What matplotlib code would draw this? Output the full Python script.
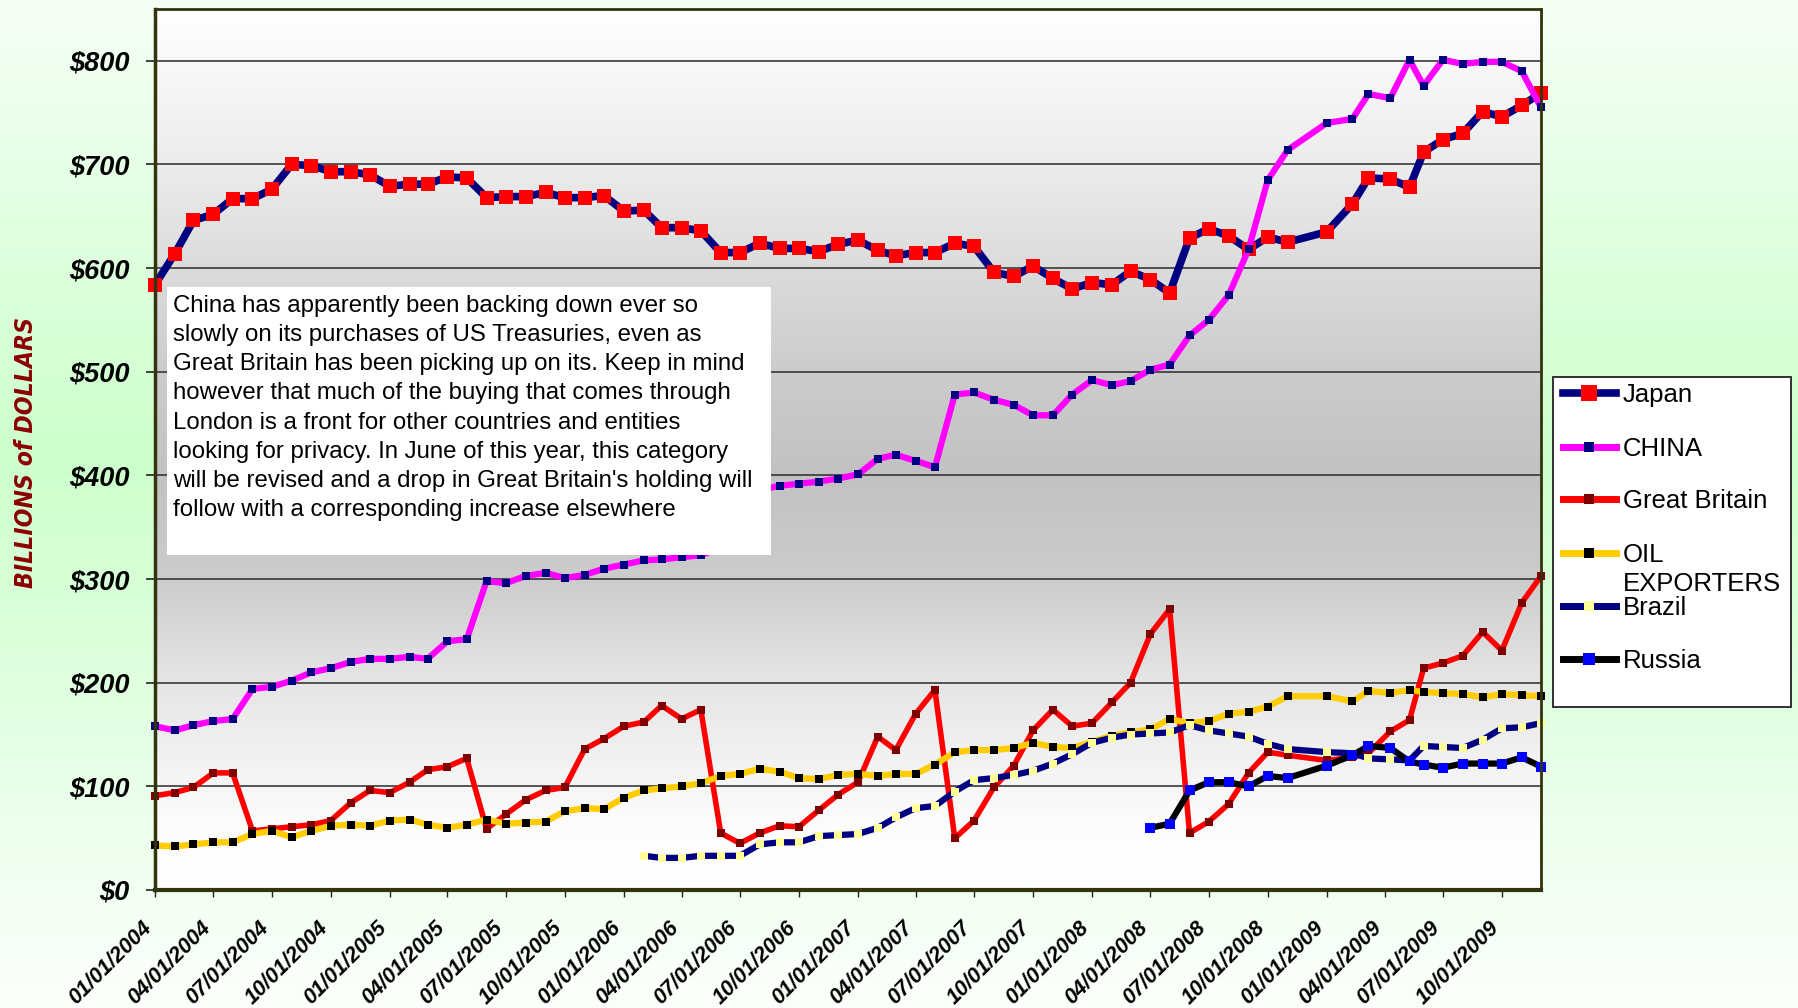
import numpy as np
import pandas as pd
import matplotlib
matplotlib.use("Agg")
import matplotlib.pyplot as plt
from matplotlib.lines import Line2D
from matplotlib.patches import Rectangle
from matplotlib import font_manager
from matplotlib.transforms import ScaledTranslation

# monthly dates, Dec 2008 is missing in the source table
dates = pd.date_range("2004-01-01", "2009-12-01", freq="MS")
dates = dates[dates != pd.Timestamp("2008-12-01")]
# a few early-2009 readings sit between month starts
shifted = {"2009-02-01": "2009-02-10", "2009-03-01": "2009-03-07",
           "2009-04-01": "2009-04-10", "2009-05-01": "2009-05-10"}
dates = pd.DatetimeIndex([pd.Timestamp(shifted.get(d.strftime("%Y-%m-%d"), d)) for d in dates])

quarters = pd.date_range("2004-01-01", "2009-10-01", freq="QS")

# billions of dollars
japan = [584, 614, 646, 652, 667, 667, 676, 700, 699, 693,
         693, 690, 679, 681, 681, 688, 687, 668, 669, 669,
         673, 668, 668, 670, 655, 656, 639, 639, 636, 615,
         615, 624, 619, 619, 616, 623, 627, 617, 612, 615,
         615, 624, 621, 596, 592, 602, 590, 580, 586, 584,
         597, 589, 576, 629, 638, 631, 618, 630, 625,
         635, 662, 687, 686, 678, 712, 724, 730, 751, 746, 757, 769]
china = [158, 154, 159, 163, 165, 194, 196, 202, 210, 214,
         220, 223, 223, 225, 223, 240, 242, 298, 296, 303,
         306, 301, 304, 310, 314, 318, 319, 321, 323, 330,
         340, 386, 390, 392, 394, 397, 401, 416, 420, 414,
         408, 478, 480, 473, 468, 458, 458, 478, 492, 487,
         491, 502, 507, 535, 550, 574, 618, 685, 714,
         740, 744, 768, 764, 801, 776, 801, 797, 799, 799, 790, 755]
great_britain = [91, 94, 99, 113, 113, 57, 59, 61, 63, 67,
                 84, 96, 94, 104, 116, 119, 127, 59, 73, 87,
                 96, 99, 136, 146, 158, 162, 178, 165, 174, 55,
                 45, 55, 62, 61, 77, 92, 104, 148, 135, 170,
                 193, 50, 67, 99, 120, 154, 174, 158, 161, 181,
                 200, 247, 271, 55, 66, 83, 113, 133, 130,
                 125, 128, 132, 153, 164, 214, 219, 226, 249, 231, 277, 303]
oil_exporters = [43, 42, 44, 46, 46, 54, 57, 51, 57, 62,
                 63, 62, 67, 68, 63, 60, 63, 68, 64, 65,
                 66, 76, 79, 78, 89, 96, 98, 100, 103, 110,
                 112, 117, 114, 108, 107, 111, 112, 110, 112, 112,
                 121, 133, 135, 135, 137, 142, 138, 137, 143, 149,
                 152, 155, 165, 161, 163, 170, 172, 177, 187,
                 187, 182, 192, 190, 193, 191, 190, 189, 186, 189, 188, 187]
brazil = [None] * 25 + [33, 31, 31, 33, 33, 33, 44, 46, 46, 52,
                        53, 54, 60, 70, 79, 81, 95, 106, 108, 111,
                        115, 122, 131, 142, 147, 150, 151, 152, 159, 154,
                        151, 148, 141, 136,
                        133, 132, 127, 126, 125, 139, 138, 137, 145, 156, 157, 161]
russia = [None] * 51 + [60, 64, 96, 104, 104, 100, 110, 108,
                        120, 130, 139, 137, 124, 121, 118, 122, 122, 122, 128, 119]

names = ["Japan", "CHINA", "Great Britain", "OIL\nEXPORTERS", "Brazil", "Russia"]
values = [japan, china, great_britain, oil_exporters, brazil, russia]

note = ("China has apparently been backing down ever so\n"
        "slowly on its purchases of US Treasuries, even as\n"
        "Great Britain has been picking up on its. Keep in mind\n"
        "however that much of the buying that comes through\n"
        "London is a front for other countries and entities\n"
        "looking for privacy. In June of this year, this category\n"
        "will be revised and a drop in Great Britain's holding will\n"
        "follow with a corresponding increase elsewhere")

# line colour, marker colour, line width, marker size
styles = [("#000080", "#FF0000", 5.5, 10),
          ("#FF00FF", "#000080", 4.5, 6),
          ("#FF0000", "#800000", 4.0, 6),
          ("#FFCC00", "#000000", 4.5, 6),
          ("#000080", "#FFFF99", 4.5, 6),
          ("#000000", "#0000FF", 4.5, 7.5)]

W, H = 1799, 1008
fig = plt.figure(figsize=(W / 100, H / 100), dpi=100)

# pale green page background
bg = fig.add_axes([0, 0, 1, 1], zorder=-5)
bg.axis("off")
t = np.linspace(0, 1, 256)[:, None]
g = np.interp(t, [0, 0.45, 1], [0.96, 0.80, 0.985])
bg.imshow(np.dstack([g, np.ones_like(g), g]), aspect="auto", extent=(0, 1, 0, 1))
bg.set_xlim(0, 1)
bg.set_ylim(0, 1)

ax = fig.add_axes([155 / W, 1 - 890 / H, (1541 - 155) / W, (890 - 9) / H])
ax.set_facecolor("none")
v = np.linspace(850, 0, 256)[:, None]
gray = np.interp(v, [0, 60, 100, 200, 300, 400, 500, 600, 700, 800, 850],
                 [1.0, 0.99, 0.965, 0.9, 0.8, 0.76, 0.8, 0.86, 0.925, 0.975, 1.0])
ax.imshow(np.dstack([gray, gray, gray]), extent=(0, 1, 0, 1), transform=ax.transAxes,
          aspect="auto", zorder=0, interpolation="bilinear")

for vals, (lc, mc, lw, ms) in zip(values, styles):
    y = np.array(vals, dtype=float)
    ok = ~np.isnan(y)
    ax.plot(dates[ok], y[ok], color=lc, lw=lw, marker="s", ms=ms,
            mfc=mc, mec=mc, mew=0, zorder=3, clip_on=False)

tick_font = dict(family="Liberation Sans", fontweight="bold", fontstyle="italic")
ax.set_xlim(pd.Timestamp("2004-01-01"), pd.Timestamp("2009-12-01"))
ax.set_ylim(0, 850)
ax.set_yticks(range(0, 801, 100))
ax.set_yticklabels([f"${k}" for k in range(0, 801, 100)], fontsize=19.5, **tick_font)
ax.set_xticks(quarters)
ax.set_xticklabels([d.strftime("%m/%d/%Y") for d in quarters], rotation=45,
                   ha="right", va="center", rotation_mode="anchor",
                   fontsize=15.5, **tick_font)
ax.tick_params(axis="y", direction="out", length=6.5, width=1.2, pad=12, colors="#222222")
ax.tick_params(axis="x", direction="out", length=5, width=1.0, pad=20, colors="#222222")
for lab in ax.get_yticklabels() + ax.get_xticklabels():
    lab.set_color("black")
shift = ScaledTranslation(-6 / 100, 0, fig.dpi_scale_trans)
for lab in ax.get_xticklabels():
    lab.set_transform(lab.get_transform() + shift)

ax.yaxis.grid(True, color="#2a2a2a", lw=1.1, zorder=1)
ax.set_axisbelow(True)
for side, w in [("left", 2.5), ("bottom", 3.0), ("top", 2.0), ("right", 2.0)]:
    ax.spines[side].set_color("#33330d")
    ax.spines[side].set_linewidth(w)
    ax.spines[side].set_zorder(4)

# y axis title, narrow font when one is installed
fonts = font_manager.fontManager.ttflist
title_kw = dict(rotation=90, ha="center", va="center", color="#8B0000",
                fontweight="bold", fontstyle="italic")
if any(f.name == "Liberation Sans Narrow" for f in fonts):
    title_kw.update(family="Liberation Sans Narrow", fontsize=21)
elif any(f.name == "DejaVu Sans" and f.stretch == "condensed" for f in fonts):
    title_kw.update(family="DejaVu Sans", fontstretch="condensed", fontsize=17.7)
else:
    title_kw.update(family="DejaVu Sans", fontsize=16.7)
fig.text(26 / W, 1 - 452 / H, "BILLIONS of DOLLARS", **title_kw)

# commentary box
fig.add_artist(Rectangle((167 / W, 1 - 555 / H), (771 - 167) / W, (555 - 287) / H,
                         transform=fig.transFigure, facecolor="white", edgecolor="none", zorder=5))
fig.text(173 / W, 1 - 295 / H, note, ha="left", va="top", fontsize=17.3,
         family="Liberation Sans", linespacing=1.42, zorder=6)

# legend
fig.add_artist(Rectangle((1553 / W, 1 - 707 / H), (1791 - 1553) / W, (707 - 377) / H,
                         transform=fig.transFigure, facecolor="white", edgecolor="#222222",
                         lw=1.3, zorder=5))
rows = [393, 447, 499, 553, 606, 659]
for name, (lc, mc, lw, ms), ry in zip(names, styles, rows):
    yy = 1 - ry / H
    fig.add_artist(Line2D([1563 / W, 1616 / W], [yy, yy], transform=fig.transFigure,
                          color=lc, lw=max(lw, 5.0), zorder=6))
    fig.add_artist(Line2D([1589.5 / W], [yy], transform=fig.transFigure, marker="s",
                          ms=ms + 1, mfc=mc, mec=mc, mew=0, zorder=7))
    for i, part in enumerate(name.split("\n")):
        fig.text(1623 / W, 1 - (ry + 2 + 29 * i) / H, part, ha="left", va="center",
                 fontsize=18.5, family="Liberation Sans", zorder=7)

fig.savefig("out.png", dpi=100)
